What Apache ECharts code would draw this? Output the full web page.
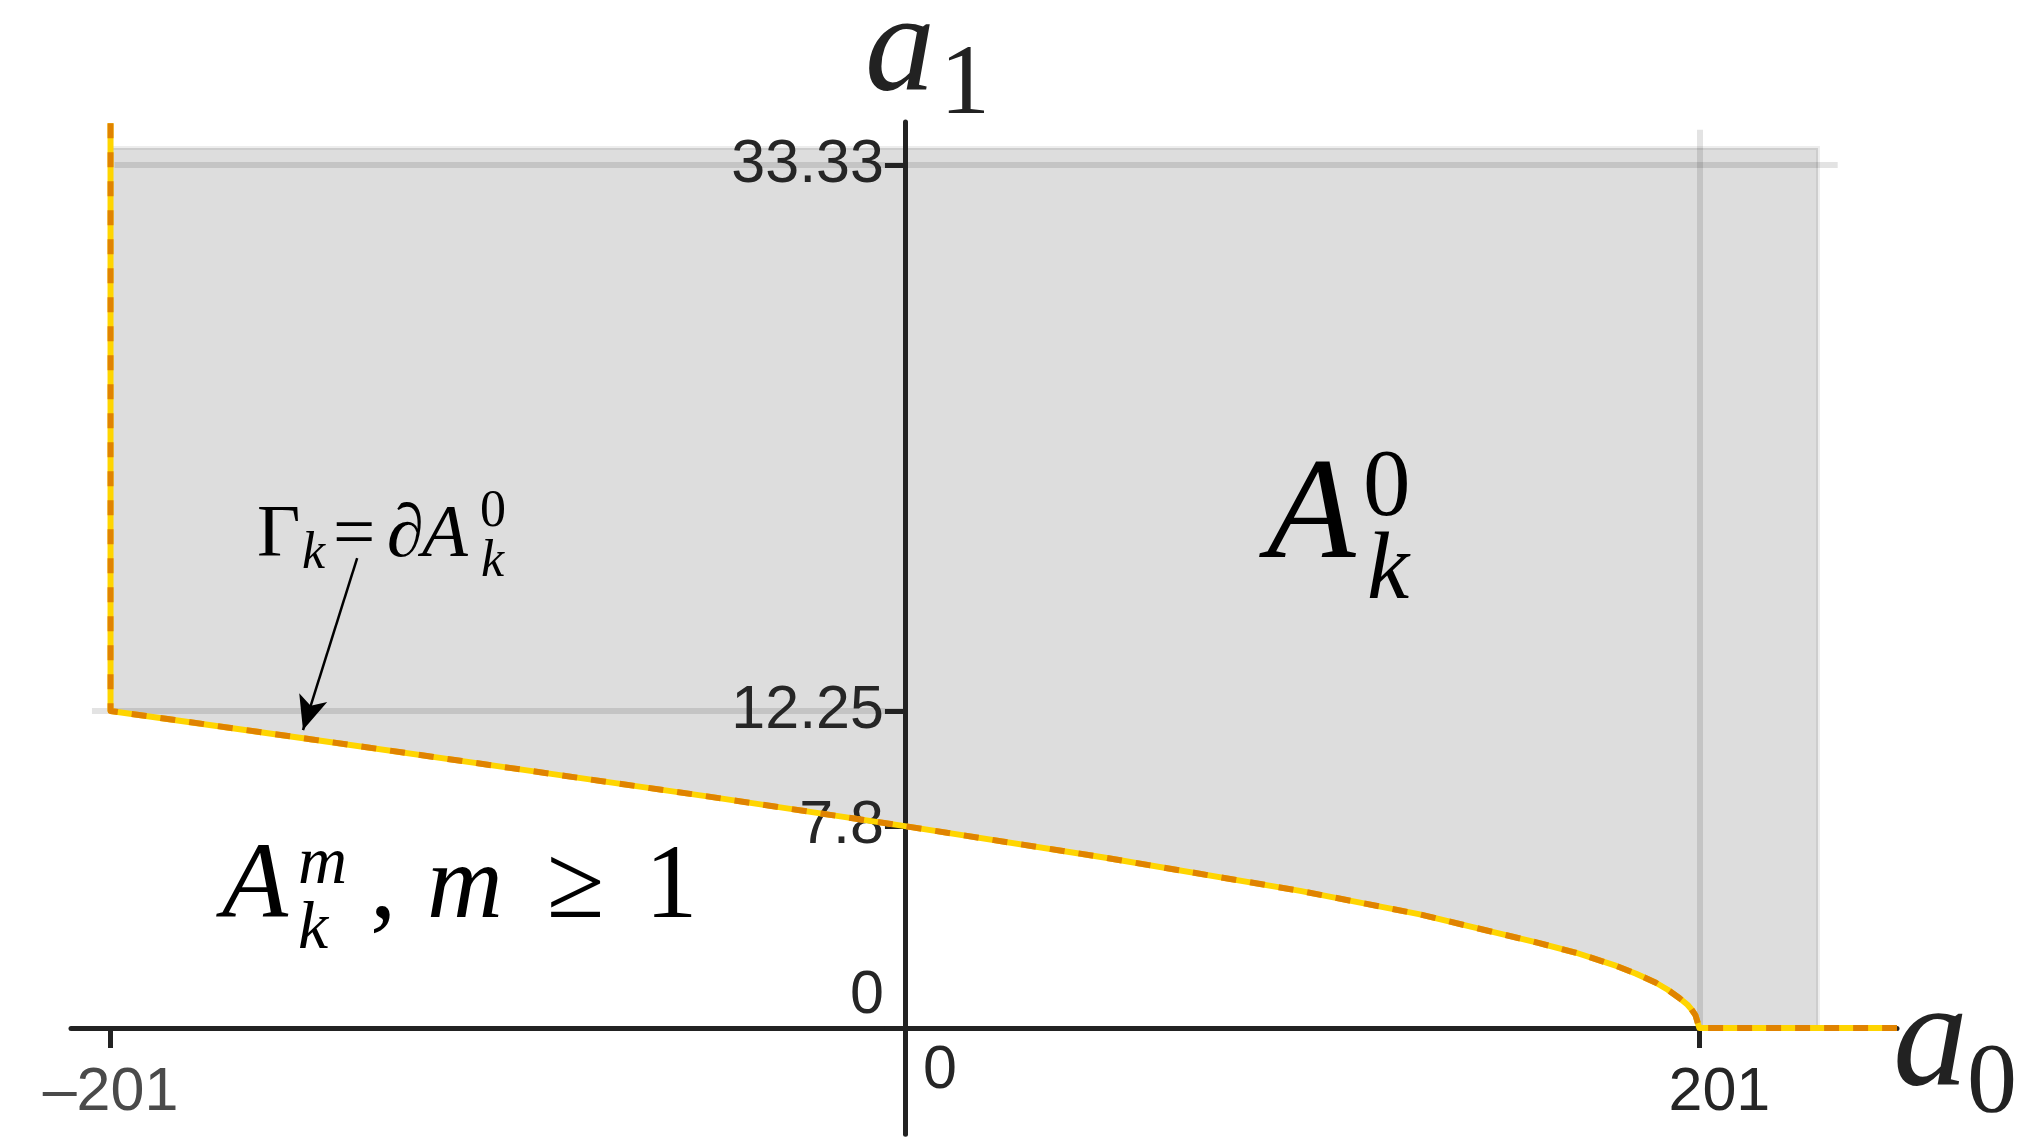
<!DOCTYPE html>
<html><head><meta charset="utf-8">
<style>html,body{margin:0;padding:0;background:#fff}#c{width:2041px;height:1148px}</style>
<script src="https://cdn.jsdelivr.net/npm/echarts@6/dist/echarts.min.js"></script>
</head><body><div id="c"></div>
<script>
// Boundary curve Γk = ∂A_k^0 : a1 as a function of a0
const curveA0 = [-201, -150, -100, -50, 0, 50, 100, 130, 160, 170, 180, 185, 190, 193, 196, 198, 199, 200, 201, 251];
const curveA1 = [12.25, 11.15, 10.05, 8.95, 7.8, 6.6, 5.3, 4.4, 3.3, 2.9, 2.4, 2.1, 1.75, 1.48, 1.15, 0.9, 0.72, 0.5, 0, 0];
// vertical part of the boundary at a0 = -201
const leftEdgeA0 = [-201, -201];
const leftEdgeA1 = [34.95, 12.25];
// shaded region A_k^0 extent
const regionTop = 34.0;
const regionRight = 231;
const regionLeft = -201;
// ticks
const xTicks = [-201, 0, 201];
const yTicks = [0, 7.8, 12.25, 33.33];
// reference (grid) segments [[a0,a1],[a0,a1]]
const gridSegments = [
  [[-201, 0], [-201, 35.07]],
  [[201, 0], [201, 34.7]],
  [[-200, 33.33], [236, 33.33]],
  [[-205.7, 12.25], [0, 12.25]]
];
// annotation arrow
const arrowFrom = [-138.6, 18.15];
const arrowTo = [-152.3, 11.51];

const X_MIN = -211, X_MAX = 251, Y_MIN = -4.1, Y_MAX = 35;
const G = {left: 71, top: 122, width: 1826, height: 1012.2};
// shift the axes so that they cross at the origin
const xAxisOffset = -G.height * (0 - Y_MIN) / (Y_MAX - Y_MIN);
const yAxisOffset = -G.width * (0 - X_MIN) / (X_MAX - X_MIN);

const boundary = leftEdgeA0.map((x, i) => [x, leftEdgeA1[i]])
  .concat(curveA0.map((x, i) => [x, curveA1[i]]).slice(1));

const regionPts = [[regionLeft, regionTop], [regionRight, regionTop], [regionRight, 0]];
for (let i = curveA0.length - 1; i >= 0; i--) {
  if (curveA0[i] <= 201) regionPts.push([curveA0[i], curveA1[i]]);
}

const chart = echarts.init(document.getElementById('c'), null, {renderer: 'canvas'});

const SERIF = '"Liberation Serif", "DejaVu Serif", serif';
const SANS = '"Liberation Sans", Arial, sans-serif';
const LFS = 61;
function mt(x, baseline, text, size, italic, color) {
  return {
    type: 'text', silent: true, z: 100,
    style: {
      text: text, x: x, y: baseline - 0.3375 * size,
      font: (italic ? 'italic ' : '') + size + 'px ' + SERIF,
      fill: color || '#111', align: 'left', verticalAlign: 'middle'
    }
  };
}

const option = {
  animation: false,
  backgroundColor: '#fff',
  grid: {left: G.left, top: G.top, width: G.width, height: G.height, outerBoundsMode: 'none', containLabel: false},
  xAxis: {
    type: 'value', min: X_MIN, max: X_MAX, z: 10, position: 'bottom', offset: xAxisOffset,
    splitLine: {show: false},
    axisLine: {onZero: false, lineStyle: {color: '#222', width: 5}},
    axisTick: {customValues: xTicks, length: 20, lineStyle: {color: '#222', width: 5}},
    axisLabel: {
      customValues: xTicks, margin: 13, fontSize: LFS, color: '#444', fontFamily: SANS,
      formatter: v => v === 0 ? '{z|0}' : (v < 0 ? '{m|\u2013' + Math.abs(v) + '}' : '{n|' + v + '}'),
      rich: {
        z: {padding: [0, 0, 0, 70], fontSize: LFS, color: '#262626', fontFamily: SANS},
        m: {padding: [22, 0, 0, 0], fontSize: LFS, color: '#4a4a4a', fontFamily: SANS},
        n: {padding: [22, 0, 0, 40], fontSize: LFS, color: '#262626', fontFamily: SANS}
      }
    }
  },
  yAxis: {
    type: 'value', min: Y_MIN, max: Y_MAX, z: 10, position: 'left', offset: yAxisOffset,
    splitLine: {show: false},
    axisLine: {onZero: false, lineStyle: {color: '#222', width: 5}},
    axisTick: {customValues: yTicks, length: 20, lineStyle: {color: '#222', width: 5}},
    axisLabel: {
      customValues: yTicks, margin: 21, fontSize: LFS, color: '#262626', fontFamily: SANS,
      formatter: v => v === 0 ? '{z|0}' : '{n|' + v + '}',
      rich: {
        z: {padding: [0, 0, 64, 0], fontSize: LFS, color: '#262626', fontFamily: SANS},
        n: {fontSize: LFS, color: '#262626', fontFamily: SANS}
      }
    }
  },
  series: [
    {
      type: 'custom', z: 1, silent: true, data: [0],
      renderItem: function (params, api) {
        return {
          type: 'polygon',
          shape: {points: regionPts.map(p => api.coord(p))},
          style: {fill: '#dddddd', stroke: 'rgba(0,0,0,0.07)', lineWidth: 4}
        };
      }
    },
    {
      type: 'line', z: 3, data: [], silent: true,
      markLine: {
        silent: true, symbol: 'none', animation: false,
        label: {show: false},
        lineStyle: {color: 'rgba(0,0,0,0.11)', width: 6, type: 'solid'},
        emphasis: {disabled: true},
        data: gridSegments.map(s => [{coord: s[0]}, {coord: s[1]}])
      }
    },
    {
      type: 'line', z: 4, data: [], silent: true,
      markLine: {
        silent: true, animation: false,
        label: {show: false},
        lineStyle: {color: '#000', width: 2.5, type: 'solid'},
        emphasis: {disabled: true},
        data: [[{coord: arrowFrom, symbol: 'none'}, {coord: arrowTo, symbol: 'arrow', symbolSize: [22, 34]}]]
      }
    },
    {
      type: 'line', z: 12, data: boundary, symbol: 'none', silent: true,
      lineStyle: {color: '#ffd500', width: 6, cap: 'butt', join: 'round'}
    },
    {
      type: 'line', z: 13, data: boundary, symbol: 'none', silent: true,
      lineStyle: {color: '#e08300', width: 6, type: [15, 14], cap: 'butt', join: 'round'}
    }
  ],
  graphic: [
    // axis names
    mt(865, 100, 'a', 140, true, '#222'),
    mt(940, 120, '1', 100, false, '#222'),
    mt(1893, 1095, 'a', 150, true, '#222'),
    mt(1967, 1118, '0', 100, false, '#222'),
    // A_k^0
    mt(1267, 568, 'A', 145, true, '#000'),
    mt(1363, 522, '0', 95, false, '#000'),
    mt(1367, 605, 'k', 95, true, '#000'),
    // Γ_k = ∂A_k^0
    mt(257, 562, '\u0393', 75, false, '#000'),
    mt(302, 572, 'k', 52, true, '#000'),
    mt(333, 562, '=', 75, false, '#000'),
    mt(387, 562, '\u2202', 75, false, '#000'),
    mt(422, 562, 'A', 75, true, '#000'),
    mt(480, 530, '0', 52, false, '#000'),
    mt(481, 580, 'k', 52, true, '#000'),
    // A_k^m, m ≥ 1
    mt(222, 925, 'A', 108, true, '#000'),
    mt(298, 888, 'm', 68, true, '#000'),
    mt(298, 953, 'k', 68, true, '#000'),
    mt(370, 925, ',', 105, false, '#000'),
    mt(427, 925, 'm', 105, true, '#000'),
    mt(547, 925, '\u2265', 105, false, '#000'),
    mt(645, 925, '1', 105, false, '#000')
  ]
};
chart.setOption(option);
</script>
</body></html>
